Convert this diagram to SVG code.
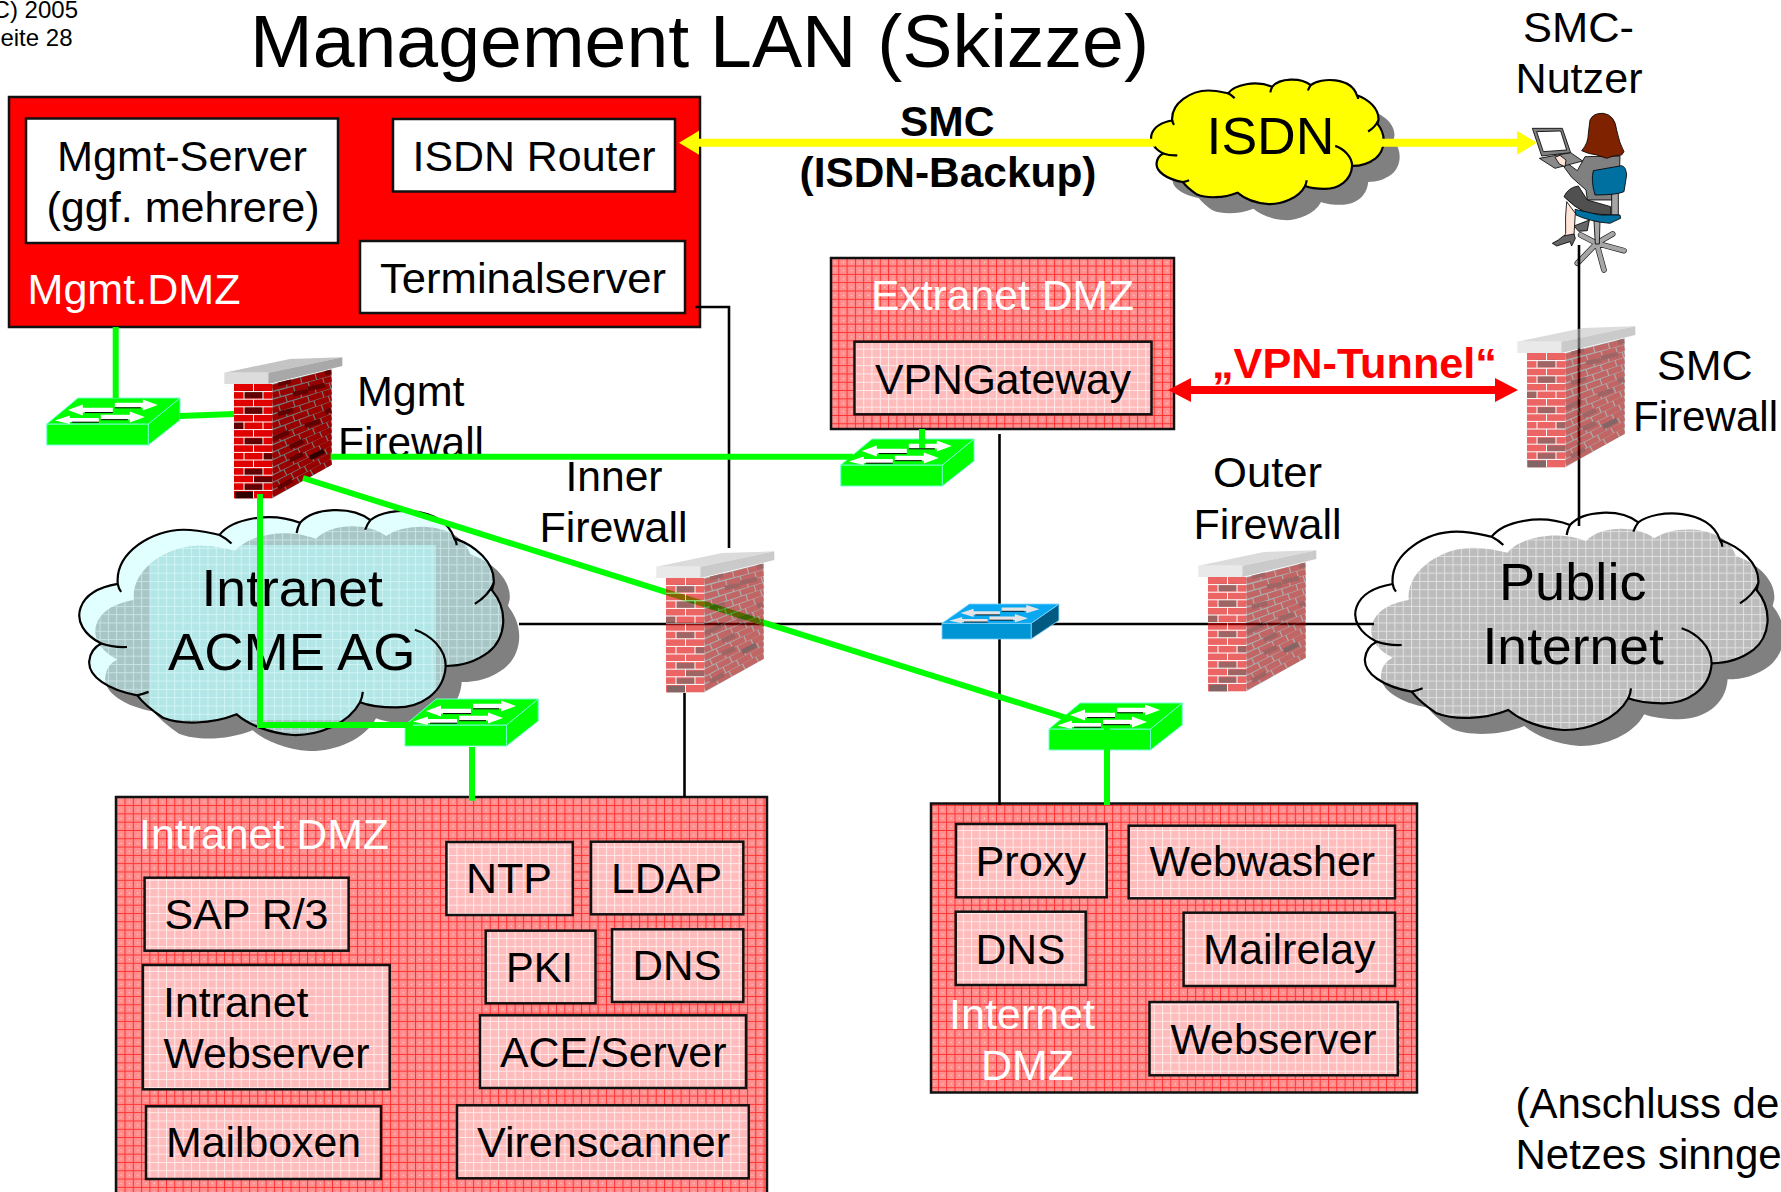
<svg xmlns="http://www.w3.org/2000/svg" width="1781" height="1192" viewBox="0 0 1781 1192">
<style>
text{font-family:"Liberation Sans",Arial,sans-serif;font-size:42px;fill:#000}
.w{fill:#fff}
.title{font-size:75px}
.small{font-size:24px}
.big{font-size:52.5px}
.b{font-weight:bold}
.red{fill:#f00}
.dmz{fill:url(#pk);stroke:#111;stroke-width:2.5}
.ibx{fill:url(#ip);stroke:#111;stroke-width:2.5}
.wbx{fill:#fff;stroke:#111;stroke-width:2.5}
.ol{fill:none;stroke:#000;stroke-width:2.2}
.blk{stroke:#000;stroke-width:2.6;fill:none}
.grn{stroke:#00ff00;stroke-width:6;fill:none}
.swt{fill:var(--t,#00ff00);stroke:var(--e,#70ffd0);stroke-width:1}
.swf{fill:var(--f,#00ff00);stroke:var(--e,#70ffd0);stroke-width:1}
.sws{fill:var(--s,#00ff00);stroke:var(--e,#70ffd0);stroke-width:1}
.swa{fill:var(--a,#fff)}
.swl{stroke:#000;stroke-width:1;fill:none}
.fd{opacity:.6}
.legs{fill:none;stroke:#222;stroke-width:17;stroke-linecap:round}
.legi{fill:none;stroke:#a6a6a6;stroke-width:13;stroke-linecap:round}
.pp{stroke:#000;stroke-width:2.5}
</style>
<defs>
<pattern id="pk" width="8.3" height="8.3" patternUnits="userSpaceOnUse"><rect width="8.3" height="8.3" fill="#ff8e8e"/><path d="M0 .5H8.3M.5 0V8.3" stroke="#ff3030" stroke-width="1"/><rect x="4.5" y="4.5" width="1" height="1" fill="#fff" opacity=".8"/></pattern>
<pattern id="ip" width="8.3" height="8.3" patternUnits="userSpaceOnUse"><rect width="8.3" height="8.3" fill="#ffbcbc"/><path d="M0 .5H8.3M.5 0V8.3" stroke="#fff" stroke-width="1" opacity=".7"/></pattern>
<pattern id="gy" width="8.3" height="8.3" patternUnits="userSpaceOnUse"><rect width="8.3" height="8.3" fill="#bcbcbc"/><path d="M0 .5H8.3M.5 0V8.3" stroke="#fff" stroke-width="1" opacity=".55"/></pattern>
<pattern id="tg" width="8.3" height="8.3" patternUnits="userSpaceOnUse"><rect width="8.3" height="8.3" fill="#a9c6c6"/><path d="M0 .5H8.3M.5 0V8.3" stroke="#e8ffff" stroke-width="1" opacity=".5"/></pattern>
<pattern id="tl" width="8.3" height="8.3" patternUnits="userSpaceOnUse"><rect width="8.3" height="8.3" fill="#b3e6e6"/><path d="M0 .5H8.3M.5 0V8.3" stroke="#e8ffff" stroke-width="1" opacity=".55"/></pattern>
<marker id="ay" markerUnits="userSpaceOnUse" markerWidth="20" markerHeight="24" refX="0" refY="12" orient="auto" overflow="visible"><path d="M0 0L20 12L0 24Z" fill="#ff0"/></marker>
<marker id="ar" markerUnits="userSpaceOnUse" markerWidth="23" markerHeight="24" refX="0" refY="12" orient="auto-start-reverse" overflow="visible"><path d="M0 0L23 12L0 24Z" fill="#f00"/></marker>
<path id="cl" vector-effect="non-scaling-stroke" d="M158,282C150,190 260,125 350,125C395,125 430,135 455,140C490,95 600,70 690,105C730,60 840,55 895,97C950,55 1110,55 1140,150C1200,170 1260,220 1255,280L1250,300C1300,360 1290,440 1240,480C1200,510 1160,520 1115,520C1110,600 1040,640 970,640C930,640 890,635 865,625C830,690 740,722 670,720C600,715 540,690 505,660C430,690 340,690 290,670C260,650 230,625 215,605C130,590 70,550 75,505C78,480 90,465 110,455C60,430 35,390 50,350C65,310 110,290 158,282Z"/>
<path id="clc" vector-effect="non-scaling-stroke" d="M455,140Q475,150 490,165M690,105Q682,120 680,135M895,97Q885,110 880,125M1140,150Q1147,160 1147,170M1255,280Q1240,315 1200,340M1115,520C1115,470 1070,430 1025,415M865,625Q872,610 873,595M215,605Q235,600 248,595M110,455Q145,467 185,465M158,282Q160,295 168,305"/>
<clipPath id="cpP"><use href="#cl" transform="translate(1340 490) scale(.3333)"/></clipPath>
<clipPath id="cpPs"><use href="#cl" transform="translate(1356 506) scale(.3333)"/></clipPath>
<clipPath id="cpI"><use href="#cl" transform="translate(63.6 486.6) scale(.3427 .345)"/></clipPath>
<clipPath id="cpIs"><use href="#cl" transform="translate(79.6 502.6) scale(.3427 .345)"/></clipPath>
<clipPath id="fwside"><polygon points="62.3,34 121.7,19.3 121.7,115 62.3,148.3"/></clipPath>
<g id="sw">
<polygon class="sws" points="101.5,26 133.2,0 133.2,22 101.5,47"/>
<rect class="swf" x="0" y="26" width="101.5" height="21"/>
<polygon class="swt" points="0,26 31.2,0 133.2,0 101.5,26"/>
<polygon class="swa" points="21,12 36,6.5 36,9.8 66,9.8 66,14.4 36,14.4 36,17.5"/>
<path class="swl" d="M38 14.6H66"/>
<polygon class="swa" points="111,7 96,1.5 96,4.8 68,4.8 68,9.4 96,9.4 96,12.5"/>
<path class="swl" d="M68 9.8H94"/>
<polygon class="swa" points="8,22.5 23,17.5 23,20 52,20 52,24 23,24 23,26"/>
<path class="swl" d="M25 24.2H52"/>
<polygon class="swa" points="98,19 83,13.5 83,16.8 54,16.8 54,21.4 83,21.4 83,24.5"/>
<path class="swl" d="M54 21.7H81"/>
</g>
<g id="fw">
<polygon points="62.3,34 121.7,19.3 121.7,115 62.3,148.3" fill="#777"/>
<g clip-path="url(#fwside)" stroke="#990000" stroke-width="5.7" fill="none">
<path stroke-dasharray="14 1.2" d="M62.3 37.8L121.7 22.5M62.3 53L121.7 35.2M62.3 68.2L121.7 48M62.3 83.4L121.7 60.7M62.3 98.6L121.7 73.5M62.3 113.8L121.7 86.2M62.3 129L121.7 98.9M62.3 144.2L121.7 111.7"/>
<path stroke-dasharray="14 1.2" stroke-dashoffset="7" d="M62.3 45.4L121.7 28.9M62.3 60.6L121.7 41.6M62.3 75.8L121.7 54.4M62.3 91L121.7 67.1M62.3 106.2L121.7 79.8M62.3 121.4L121.7 92.6M62.3 136.6L121.7 105.3"/>
<path stroke="#600000" stroke-width="4.8" d="M68 34L81 31M83 44L98 41M98 39L115 35M68 64L83 60M95 76L110 71M63 89L79 82M80 97L93 91M80 110L93 104M68 138L82 130M115 23L121 22M115 62L121 60"/>
<path stroke="#300000" stroke-width="4.8" d="M100 108L114 101"/>
</g>
<rect x="24" y="34" width="38.3" height="114.3" fill="#e00000"/>
<g fill="#600000"><rect x="34" y="40.7" width="19.3" height="7.6"/><rect x="34" y="56.7" width="19.3" height="7.3"/><rect x="24" y="71.7" width="10" height="7.3"/><rect x="34" y="88.3" width="19.3" height="6.7"/><rect x="53.3" y="103.3" width="9" height="7.3"/><rect x="34" y="119" width="19.3" height="7"/><rect x="44" y="126.7" width="18.3" height="6.7"/><rect x="34" y="134.3" width="19.3" height="6.7"/></g>
<rect x="25" y="141.7" width="18.3" height="6.6" fill="#300000"/>
<path stroke="#fff" stroke-width="1" fill="none" d="M24 41.6H62.3M24 49.2H62.3M24 56.8H62.3M24 64.4H62.3M24 72H62.3M24 79.6H62.3M24 87.2H62.3M24 94.8H62.3M24 102.4H62.3M24 110H62.3M24 117.6H62.3M24 125.2H62.3M24 132.8H62.3M24 140.4H62.3M43.5 34V41.6M34 41.6V49.2M53 41.6V49.2M43.5 49.2V56.8M34 56.8V64.4M53 56.8V64.4M43.5 64.4V72M34 72V79.6M53 72V79.6M43.5 79.6V87.2M34 87.2V94.8M53 87.2V94.8M43.5 94.8V102.4M34 102.4V110M53 102.4V110M43.5 110V117.6M34 117.6V125.2M53 117.6V125.2M43.5 125.2V132.8M34 132.8V140.4M53 132.8V140.4M43.5 140.4V148"/>
<polygon points="14.3,22.7 80,9 132.3,7.3 58.3,22.7" fill="#c4c4c4"/>
<rect x="14.3" y="22.7" width="44" height="11.3" fill="#dcdcdc"/>
<polygon points="58.3,22.7 132.3,7.3 132.3,16 58.3,34" fill="#a8a8a8"/>
</g>
</defs>

<rect width="1781" height="1192" fill="#fff"/>
<g id="header">
<text class="small" x="78" y="18" text-anchor="end">(C) 2005</text>
<text class="small" x="72.5" y="46" text-anchor="end">Seite 28</text>
<text class="title" x="250" y="67" textLength="899" lengthAdjust="spacingAndGlyphs">Management LAN (Skizze)</text>
</g>

<g id="mgmt-dmz">
<rect x="9" y="97" width="691" height="230" fill="#f00" stroke="#111" stroke-width="2.5"/>
<rect class="wbx" x="26" y="118.5" width="312" height="124.5"/>
<text x="57" y="171" textLength="250" lengthAdjust="spacingAndGlyphs">Mgmt-Server</text>
<text x="46.5" y="222" textLength="273" lengthAdjust="spacingAndGlyphs">(ggf. mehrere)</text>
<rect class="wbx" x="393" y="119" width="282" height="72.5"/>
<text x="412.5" y="171" textLength="243" lengthAdjust="spacingAndGlyphs">ISDN Router</text>
<rect class="wbx" x="360" y="241" width="325" height="72"/>
<text x="380" y="293" textLength="286" lengthAdjust="spacingAndGlyphs">Terminalserver</text>
<text class="w" x="27.5" y="304" textLength="213" lengthAdjust="spacingAndGlyphs">Mgmt.DMZ</text>
</g>

<g id="extranet-dmz">
<rect class="dmz" x="831" y="258" width="343" height="171"/>
<text class="w" x="871" y="309.5" textLength="263" lengthAdjust="spacingAndGlyphs">Extranet DMZ</text>
<rect class="ibx" x="854.5" y="341.7" width="297" height="72.6"/>
<text x="875" y="393.5" textLength="256" lengthAdjust="spacingAndGlyphs">VPNGateway</text>
</g>

<g id="intranet-dmz">
<rect class="dmz" x="116" y="797" width="651" height="410"/>
<text class="w" x="139" y="849" textLength="250" lengthAdjust="spacingAndGlyphs">Intranet DMZ</text>
<rect class="ibx" x="446.4" y="842" width="126.4" height="73"/>
<text x="466" y="893" textLength="86" lengthAdjust="spacingAndGlyphs">NTP</text>
<rect class="ibx" x="591" y="841.7" width="152.3" height="72.6"/>
<text x="611" y="893" textLength="111" lengthAdjust="spacingAndGlyphs">LDAP</text>
<rect class="ibx" x="144.6" y="877.7" width="204" height="73"/>
<text x="164.5" y="929" textLength="164" lengthAdjust="spacingAndGlyphs">SAP R/3</text>
<rect class="ibx" x="485.7" y="930.7" width="109.8" height="72.6"/>
<text x="506" y="981.7" textLength="67" lengthAdjust="spacingAndGlyphs">PKI</text>
<rect class="ibx" x="612" y="929.3" width="131.3" height="72.7"/>
<text x="632.5" y="980" textLength="89" lengthAdjust="spacingAndGlyphs">DNS</text>
<rect class="ibx" x="142.9" y="965" width="246.8" height="124.3"/>
<text x="163" y="1017" textLength="145.5" lengthAdjust="spacingAndGlyphs">Intranet</text>
<text x="163.5" y="1068" textLength="206" lengthAdjust="spacingAndGlyphs">Webserver</text>
<rect class="ibx" x="480" y="1015.3" width="266" height="72.7"/>
<text x="500" y="1066.7" textLength="226.5" lengthAdjust="spacingAndGlyphs">ACE/Server</text>
<rect class="ibx" x="146" y="1106.3" width="235" height="72.7"/>
<text x="166" y="1156.7" textLength="195" lengthAdjust="spacingAndGlyphs">Mailboxen</text>
<rect class="ibx" x="457" y="1105.3" width="291.7" height="73"/>
<text x="477" y="1156.7" textLength="253" lengthAdjust="spacingAndGlyphs">Virenscanner</text>
</g>

<g id="internet-dmz">
<rect class="dmz" x="931" y="803.5" width="486" height="289"/>
<rect class="ibx" x="956" y="824" width="150.7" height="73.3"/>
<text x="975.5" y="876" textLength="110.5" lengthAdjust="spacingAndGlyphs">Proxy</text>
<rect class="ibx" x="1128.7" y="825.7" width="266.3" height="72.6"/>
<text x="1149.5" y="876" textLength="225.5" lengthAdjust="spacingAndGlyphs">Webwasher</text>
<rect class="ibx" x="955.7" y="911.7" width="130" height="73.3"/>
<text x="975.5" y="964" textLength="90" lengthAdjust="spacingAndGlyphs">DNS</text>
<rect class="ibx" x="1183.6" y="912.7" width="211.4" height="73.3"/>
<text x="1203" y="964" textLength="172.5" lengthAdjust="spacingAndGlyphs">Mailrelay</text>
<rect class="ibx" x="1149.5" y="1002" width="248.3" height="73.3"/>
<text x="1170.5" y="1054" textLength="206" lengthAdjust="spacingAndGlyphs">Webserver</text>
<text class="w" x="949" y="1029" textLength="146" lengthAdjust="spacingAndGlyphs">Internet</text>
<text class="w" x="981" y="1080" textLength="93" lengthAdjust="spacingAndGlyphs">DMZ</text>
</g>

<g id="isdn-cloud">
<use href="#cl" transform="translate(1158.5 82.6) scale(.188 .191)" fill="#808080"/>
<use href="#cl" transform="translate(1142.5 66.6) scale(.188 .191)" fill="#ff0"/>
<use href="#cl" class="ol" transform="translate(1142.5 66.6) scale(.188 .191)"/>
<use href="#clc" class="ol" transform="translate(1142.5 66.6) scale(.188 .191)"/>
<text class="big" x="1206.5" y="154" textLength="128" lengthAdjust="spacingAndGlyphs">ISDN</text>
</g>

<g id="intranet-cloud">
<use href="#cl" transform="translate(79.6 502.6) scale(.3427 .345)" fill="#808080"/>
<use href="#cl" transform="translate(63.6 486.6) scale(.3427 .345)" fill="#e2ffff"/>
<g clip-path="url(#cpI)"><g clip-path="url(#cpIs)"><rect x="60" y="490" width="480" height="270" fill="url(#tg)"/><rect x="150" y="545" width="286" height="175" fill="url(#tl)"/></g></g>
<use href="#cl" class="ol" transform="translate(63.6 486.6) scale(.3427 .345)"/>
<use href="#clc" class="ol" transform="translate(63.6 486.6) scale(.3427 .345)"/>
<text class="big" x="201.5" y="606" textLength="181.5" lengthAdjust="spacingAndGlyphs">Intranet</text>
<text class="big" x="168" y="670" textLength="247.5" lengthAdjust="spacingAndGlyphs">ACME AG</text>
</g>

<g id="public-internet">
<use href="#cl" transform="translate(1356 506) scale(.3333)" fill="#808080"/>
<use href="#cl" transform="translate(1340 490) scale(.3333)" fill="#fff"/>
<g clip-path="url(#cpP)"><g clip-path="url(#cpPs)"><rect x="1340" y="490" width="441" height="280" fill="url(#gy)"/></g></g>
<use href="#cl" class="ol" transform="translate(1340 490) scale(.3333)"/>
<use href="#clc" class="ol" transform="translate(1340 490) scale(.3333)"/>
<text class="big" x="1499" y="600" textLength="147.5" lengthAdjust="spacingAndGlyphs">Public</text>
<text class="big" x="1482.5" y="664" textLength="181.5" lengthAdjust="spacingAndGlyphs">Internet</text>
</g>

<g id="smc-user">
<text x="1523" y="41.5" textLength="111" lengthAdjust="spacingAndGlyphs">SMC-</text>
<text x="1515.5" y="93" textLength="127" lengthAdjust="spacingAndGlyphs">Nutzer</text>
<g transform="translate(1500 100) scale(.3333)">
<path class="legs" d="M290 430L232 490M290 430L312 510M290 430L372 452M290 430L338 402M290 430L242 405"/>
<path class="legi" d="M290 430L232 490M290 430L312 510M290 430L372 452M290 430L338 402M290 430L242 405"/>
<path d="M282 362H300L298 432H286Z" fill="#a6a6a6" class="pp"/>
<path d="M222 378L268 360L262 392L236 394Z" fill="#666" class="pp"/>
<path d="M200 305L226 340L222 405L188 420L197 400Q195 350 200 305Z" fill="#ffe4d8" class="pp"/>
<path d="M157 430Q175 422 190 408L222 402L226 415L215 438L210 425L170 438Z" fill="#666" class="pp"/>
<path d="M255 170L360 168L358 240L345 300L262 300L258 270L215 232L195 205L190 197L205 192L232 212Z" fill="#808080" class="pp"/>
<path d="M192 290Q205 262 235 258L262 300L332 320L332 345L260 340Q220 320 192 290Z" fill="#505050" class="pp"/>
<path d="M335 280H355V345H335Z" fill="#a6a6a6" class="pp"/>
<path d="M225 328L300 345L360 345L362 355L330 370Q270 365 228 345Z" fill="#0070a0" class="pp"/>
<path d="M280 212L365 197Q378 200 380 225L372 275Q350 285 285 285Q272 240 280 212Z" fill="#0070a0" class="pp"/>
<path d="M270 60Q280 38 310 40Q345 45 350 90Q358 130 372 155L365 165L340 168L320 175L290 165L265 160L245 152Q265 130 265 100Z" fill="#7f2200" class="pp"/>
<path d="M118 175L212 158L248 183L165 205Z" fill="#8a8a8a" class="pp"/>
<path d="M97 85L187 85L212 158L125 168Z" fill="#808080" class="pp"/>
<path d="M110 95L182 93L200 150L130 155Z" fill="#fff" class="pp"/>
<path d="M165 172L180 166L198 180L195 200L178 192Z" fill="#ffe4d8" class="pp"/>
</g>
</g>

<g id="mgmt-firewall">
<use href="#fw" transform="translate(210 350)"/>
<text x="357" y="406" textLength="107.5" lengthAdjust="spacingAndGlyphs">Mgmt</text>
<text x="338" y="457" textLength="146" lengthAdjust="spacingAndGlyphs">Firewall</text>
</g>

<g id="switch-mgmt"><use href="#sw" transform="translate(46.8 398)"/></g>
<g id="switch-extranet"><use href="#sw" transform="translate(840.8 439)"/></g>
<g id="switch-intranet"><use href="#sw" transform="translate(405 699)"/></g>
<g id="switch-internet"><use href="#sw" transform="translate(1049 703)"/></g>

<g id="connectors">
<path class="blk" d="M519 624H1374"/>
<path class="blk" d="M999.5 434V805"/>
<path class="blk" d="M695.5 307H729V548"/>
<path class="blk" d="M684.5 693V797"/>
<path class="blk" d="M1579 245V526"/>
<path class="grn" d="M115.7 327V398"/>
<path class="grn" d="M180 416L234 414"/>
<path class="grn" d="M330.6 456.7H853"/>
<path class="grn" d="M922 429V448"/>
<path class="grn" d="M260 494V725H413"/>
<path class="grn" d="M472 747V800.7"/>
<path class="grn" d="M303 478L1067 718"/>
<path class="grn" d="M1107 727V805"/>
<path d="M1155 142.8H699" stroke="#ff0" stroke-width="8" fill="none" marker-end="url(#ay)"/>
<path d="M1380 142.8H1517" stroke="#ff0" stroke-width="8" fill="none" marker-end="url(#ay)"/>
<path d="M1191 390H1495" stroke="#f00" stroke-width="8" fill="none" marker-start="url(#ar)" marker-end="url(#ar)"/>
<text class="b" x="900" y="136" textLength="94.5" lengthAdjust="spacingAndGlyphs">SMC</text>
<text class="b" x="799.5" y="186.5" textLength="297" lengthAdjust="spacingAndGlyphs">(ISDN-Backup)</text>
<text class="b red" x="1212" y="377.5" textLength="285" lengthAdjust="spacingAndGlyphs">„VPN-Tunnel“</text>
</g>

<g id="inner-firewall">
<use href="#fw" class="fd" transform="translate(642 544)"/>
<text x="565.5" y="490.5" textLength="97" lengthAdjust="spacingAndGlyphs">Inner</text>
<text x="539.5" y="541.5" textLength="148" lengthAdjust="spacingAndGlyphs">Firewall</text>
</g>
<g id="outer-firewall">
<use href="#fw" class="fd" transform="translate(1184 543)"/>
<text x="1213" y="486.5" textLength="109" lengthAdjust="spacingAndGlyphs">Outer</text>
<text x="1193.5" y="538.5" textLength="148" lengthAdjust="spacingAndGlyphs">Firewall</text>
</g>
<g id="smc-firewall">
<use href="#fw" class="fd" transform="translate(1503 319)"/>
<text x="1657" y="379.5" textLength="95.5" lengthAdjust="spacingAndGlyphs">SMC</text>
<text x="1633" y="430.5" textLength="145" lengthAdjust="spacingAndGlyphs">Firewall</text>
</g>
<g id="switch-core" style="--t:#0aa8f0;--f:#0095d5;--s:#005a82;--e:#7fd4ff;--a:#e4e4e4">
<use href="#sw" transform="translate(942 604) scale(.878 .745)"/>
</g>
<g id="note">
<text x="1515.5" y="1117.5">(Anschluss de</text>
<text x="1515.5" y="1168.5">Netzes sinnge</text>
</g>
</svg>
